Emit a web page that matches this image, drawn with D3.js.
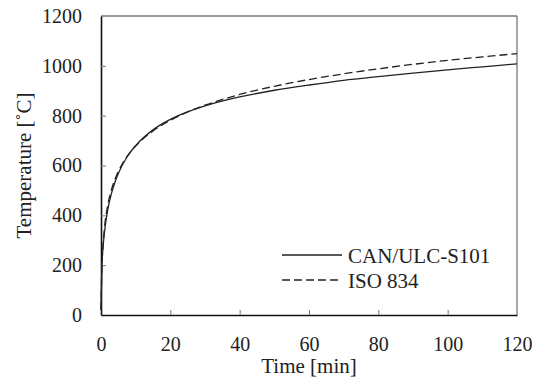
<!DOCTYPE html>
<meta charset="utf-8">
<style>
body { margin: 0; background: #fff; }
</style>
<svg width="534" height="385"></svg>
<script src="https://d3js.org/d3.v7.min.js"></script>
<script>

// time points [min]
let times = [0, 0.25, 0.5, 1, 2, 3, 4, 5, 7.5, 10, 15, 20, 25, 30, 40, 50, 60, 70, 80, 90, 100, 110, 120];
// CAN/ULC-S101 temperature [C]
let canTemps = [20, 194, 255, 332, 426, 487, 532, 568, 634, 680, 743, 785, 815, 839, 875, 902, 923, 942, 957, 971, 984, 996, 1008];
// ISO 834 temperature [C]
let isoTemps = [20, 185, 261, 349, 445, 502, 544, 576, 636, 678, 739, 781, 815, 842, 885, 918, 945, 968, 988, 1006, 1022, 1036, 1049];
let xTicks = [0, 20, 40, 60, 80, 100, 120];
let yTicks = [0, 200, 400, 600, 800, 1000, 1200];
let seriesNames = ["CAN/ULC-S101", "ISO 834"];

let svg = d3.select("svg");
let plotLeft = 101, plotRight = 517, plotTop = 16, plotBottom = 315;
let fontName = "'Liberation Serif'";

let x = d3.scaleLinear().domain([0, 120]).range([plotLeft, plotRight]);
let y = d3.scaleLinear().domain([0, 1200]).range([plotBottom, plotTop]);

// frame: top and right grey, left and bottom black
svg.append("line").attr("x1", plotLeft).attr("x2", plotRight).attr("y1", plotTop).attr("y2", plotTop)
	.attr("stroke", "#777").attr("stroke-width", 1.3);
svg.append("line").attr("x1", plotRight).attr("x2", plotRight).attr("y1", plotTop).attr("y2", plotBottom)
	.attr("stroke", "#777").attr("stroke-width", 1.3);

let xAxis = svg.append("g")
	.attr("transform", "translate(0," + plotBottom + ")")
	.call(d3.axisBottom(x).tickValues(xTicks).tickFormat(d3.format("d"))
		.tickSizeInner(-5).tickSizeOuter(0).tickPadding(22));
let yAxis = svg.append("g")
	.attr("transform", "translate(" + plotLeft + ",0)")
	.call(d3.axisLeft(y).tickValues(yTicks).tickFormat(d3.format("d"))
		.tickSizeInner(-5).tickSizeOuter(0).tickPadding(19));

[xAxis, yAxis].forEach(function(a) {
	a.select(".domain").attr("stroke", "#111").attr("stroke-width", 1.6);
	a.selectAll(".tick line").attr("stroke", "#777");
	a.selectAll(".tick text").attr("fill", "#222")
		.style("font-family", fontName).style("font-size", "20px");
});
xAxis.selectAll(".tick").filter(function(d) { return d === 0 || d === 120; }).select("line").remove();
yAxis.selectAll(".tick").filter(function(d) { return d === 0 || d === 1200; }).select("line").remove();

let line = d3.line()
	.x(function(d) { return x(d[0]); })
	.y(function(d) { return y(d[1]); })
	.curve(d3.curveMonotoneX);

let canData = times.map(function(t, i) { return [t, canTemps[i]]; });
let isoData = times.map(function(t, i) { return [t, isoTemps[i]]; });

svg.append("path").datum(isoData)
	.attr("d", line).attr("fill", "none")
	.attr("stroke", "#222").attr("stroke-width", 1.3).attr("stroke-dasharray", "8,4");
svg.append("path").datum(canData)
	.attr("d", line).attr("fill", "none")
	.attr("stroke", "#222").attr("stroke-width", 1.3);

// legend
let legend = svg.append("g");
seriesNames.forEach(function(name, i) {
	let ly = 255 + i * 25;
	legend.append("line").attr("x1", 282).attr("x2", 342).attr("y1", ly).attr("y2", ly)
		.attr("stroke", "#222").attr("stroke-width", 1.3)
		.attr("stroke-dasharray", i === 1 ? "8,4" : null);
	legend.append("text").attr("x", 348).attr("y", ly + 7.5).attr("fill", "#222")
		.style("font-family", fontName).style("font-size", "21px").text(name);
});

svg.append("text").attr("x", (plotLeft + plotRight) / 2).attr("y", 373).attr("fill", "#222")
	.attr("text-anchor", "middle").style("font-family", fontName).style("font-size", "21px")
	.text("Time [min]");
svg.append("text").attr("transform", "translate(31," + ((plotTop + plotBottom) / 2) + ") rotate(-90)")
	.attr("fill", "#222").attr("text-anchor", "middle")
	.style("font-family", fontName).style("font-size", "21px")
	.text("Temperature [˚C]");

</script>
